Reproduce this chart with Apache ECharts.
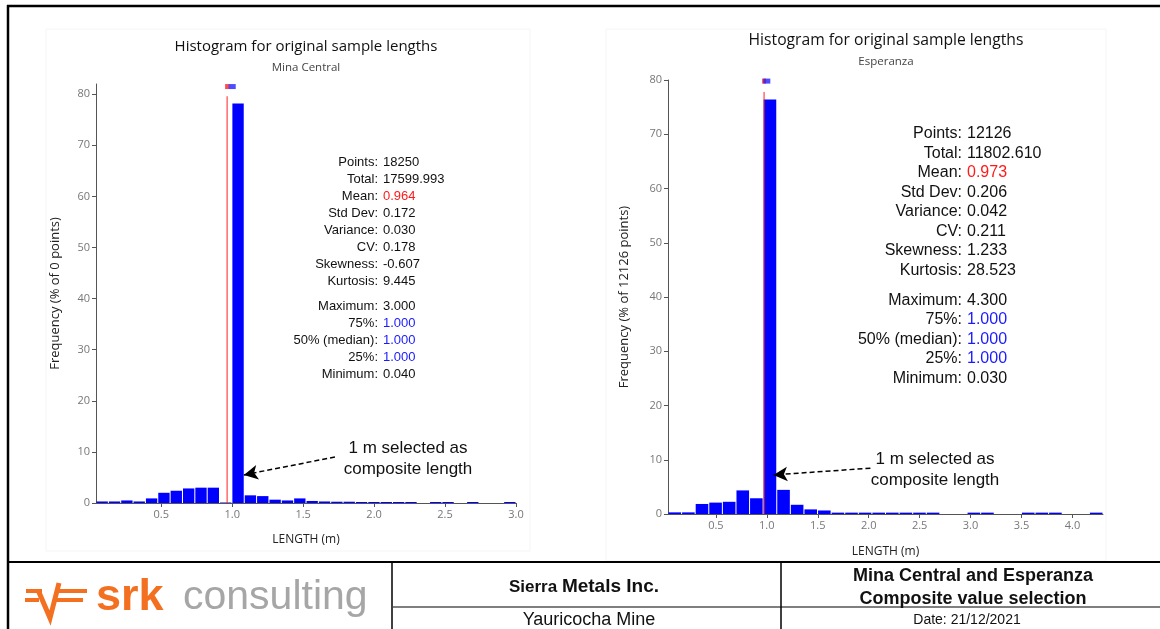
<!DOCTYPE html>
<html style="height: 100%; width: 100%;">
<head>
    <meta charset="utf-8">
    <title>Histogram for original sample lengths</title>
    <script src="https://cdn.jsdelivr.net/npm/echarts@6/dist/echarts.min.js"></script>
    <style>
        body, html {
            margin: 0;
            padding: 0;
            width: 100%;
            height: 100%;
            background: #ffffff;
        }
        #main {
            width: 1160px;
            height: 629px;
        }
    </style>
</head>
<body>
<div id="main"></div>
<script type="text/javascript">
    // ---- data ----
    // Mina Central: 34 bins between the sample min and max (% of points)
    var mcRange = [0.04, 3.0];
    var mcFreq = [0.3, 0.3, 0.5, 0.3, 0.9, 2.0, 2.4, 2.85, 3.0, 3.0,
                  0.1, 78.2, 1.5, 1.35, 0.65, 0.5, 0.9, 0.4, 0.3, 0.25,
                  0.25, 0.2, 0.2, 0.2, 0.2, 0.2, 0, 0.2, 0.2, 0,
                  0.2, 0, 0, 0.2];
    // Esperanza: 32 bins
    var espRange = [0.03, 4.3];
    var espFreq = [0.3, 0.3, 1.85, 2.1, 2.25, 4.35, 2.9, 76.4, 4.45, 1.7,
                   0.85, 0.65, 0.25, 0.25, 0.25, 0.25, 0.25, 0.25, 0.25, 0.25,
                   0, 0, 0.25, 0.25, 0, 0, 0.25, 0.25, 0.25, 0,
                   0, 0.25];

    var mcMean = 0.964, mcMedian = 1.0;
    var espMean = 0.973, espMedian = 1.0;

    var mcXTicks = [0.5, 1.0, 1.5, 2.0, 2.5, 3.0];
    var espXTicks = [0.5, 1.0, 1.5, 2.0, 2.5, 3.0, 3.5, 4.0];
    var yTicks = [0, 10, 20, 30, 40, 50, 60, 70, 80];

    var statLabels = ['Points:', 'Total:', 'Mean:', 'Std Dev:', 'Variance:', 'CV:', 'Skewness:', 'Kurtosis:',
                      'Maximum:', '75%:', '50% (median):', '25%:', 'Minimum:'];
    var mcStats = ['18250', '17599.993', '0.964', '0.172', '0.030', '0.178', '-0.607', '9.445',
                   '3.000', '1.000', '1.000', '1.000', '0.040'];
    var espStats = ['12126', '11802.610', '0.973', '0.206', '0.042', '0.211', '1.233', '28.523',
                    '4.300', '1.000', '1.000', '1.000', '0.030'];

    // build [lo, hi, value] rows for the histogram
    function binRows(range, freq) {
        var w = (range[1] - range[0]) / freq.length;
        return freq.map(function (v, i) {
            return [range[0] + i * w, range[0] + (i + 1) * w, v];
        });
    }

    function histItem(params, api) {
        var p0 = api.coord([api.value(0), api.value(2)]);
        var p1 = api.coord([api.value(1), 0]);
        return {
            type: 'rect',
            shape: { x: p0[0] + 0.5, y: p0[1], width: p1[0] - p0[0] - 1, height: Math.max(p1[1] - p0[1], 0) },
            style: { fill: '#0000ff' }
        };
    }

    var chartFont = '"Open Sans", sans-serif';
    var statFont = '"Liberation Sans", Arial, sans-serif';

    function xAxisFor(idx, range, ticks, gap) {
        return {
            gridIndex: idx, type: 'value', min: range[0], max: range[1],
            name: 'LENGTH (m)', nameLocation: 'middle', nameGap: gap,
            nameTextStyle: { fontFamily: chartFont, fontSize: 12, color: '#222' },
            axisLine: { lineStyle: { color: '#555', width: 1 } },
            axisTick: { show: true, customValues: ticks, length: 4, lineStyle: { color: '#555' } },
            axisLabel: { customValues: ticks, fontFamily: chartFont, fontSize: 11, color: '#777', margin: 6,
                formatter: function (v) { return v.toFixed(1); } },
            splitLine: { show: false }
        };
    }

    function yAxisFor(idx, max, name, gap) {
        return {
            gridIndex: idx, type: 'value', min: 0, max: max,
            name: name, nameLocation: 'middle', nameGap: gap,
            nameTextStyle: { fontFamily: chartFont, fontSize: 13, color: '#222' },
            axisLine: { show: true, lineStyle: { color: '#555', width: 1 } },
            axisTick: { show: true, customValues: yTicks, length: 4, lineStyle: { color: '#555' } },
            axisLabel: { customValues: yTicks, fontFamily: chartFont, fontSize: 11, color: '#777', margin: 6 },
            splitLine: { show: false }
        };
    }

    function statTexts(labelsX, y0, step, gapAt, gapExtra, size, values) {
        var out = [];
        statLabels.forEach(function (lab, i) {
            var y = y0 + i * step + (i >= gapAt ? gapExtra : 0);
            var col = '#111';
            if (i === 2) col = '#ff1a1a';
            if (i >= 9 && i <= 11) col = '#1a1aff';
            out.push({ type: 'text', x: labelsX, y: y, style: { text: lab, font: size + 'px ' + statFont,
                fill: '#111', align: 'right', verticalAlign: 'middle' } });
            out.push({ type: 'text', x: labelsX + 5, y: y, style: { text: values[i], font: size + 'px ' + statFont,
                fill: col, align: 'left', verticalAlign: 'middle' } });
        });
        return out;
    }

    function centerText(x, y, text, font, fill) {
        return { type: 'text', x: x, y: y, style: { text: text, font: font, fill: fill || '#111',
            align: 'center', verticalAlign: 'middle' } };
    }

    var orange = '#f37021';
    var graphics = [
        // faint panels behind each histogram
        { type: 'rect', shape: { x: 46, y: 29, width: 484, height: 522 }, style: { fill: 'none', stroke: '#f5f5f5' } },
        { type: 'rect', shape: { x: 606, y: 29, width: 500, height: 532 }, style: { fill: 'none', stroke: '#f5f5f5' } },
        // outer frame + title block
        { type: 'line', shape: { x1: 7, y1: 6, x2: 1160, y2: 6 }, style: { stroke: '#000', lineWidth: 2.5 } },
        { type: 'line', shape: { x1: 8, y1: 5, x2: 8, y2: 629 }, style: { stroke: '#000', lineWidth: 2.5 } },
        { type: 'line', shape: { x1: 7, y1: 562, x2: 1160, y2: 562 }, style: { stroke: '#000', lineWidth: 2 } },
        { type: 'line', shape: { x1: 392, y1: 562, x2: 392, y2: 629 }, style: { stroke: '#000', lineWidth: 1.5 } },
        { type: 'line', shape: { x1: 781, y1: 562, x2: 781, y2: 629 }, style: { stroke: '#000', lineWidth: 1.5 } },
        { type: 'line', shape: { x1: 393, y1: 607, x2: 1160, y2: 607 }, style: { stroke: '#000', lineWidth: 1.2 } },
        // srk logo
        { type: 'rect', shape: { x: 26, y: 589, width: 16, height: 4 }, style: { fill: orange } },
        { type: 'rect', shape: { x: 25, y: 598, width: 14, height: 4 }, style: { fill: orange } },
        { type: 'rect', shape: { x: 58, y: 589, width: 29, height: 4 }, style: { fill: orange } },
        { type: 'rect', shape: { x: 56, y: 598, width: 27, height: 4 }, style: { fill: orange } },
        { type: 'polyline', shape: { points: [[38, 590], [50, 618], [59, 583]] },
            style: { stroke: orange, lineWidth: 5, fill: 'none', lineJoin: 'miter' } },
        { type: 'text', x: 96, y: 598, style: { text: 'srk', font: 'bold 45px ' + statFont, fill: orange,
            align: 'left', verticalAlign: 'middle' } },
        { type: 'text', x: 183, y: 598, style: { text: 'consulting', font: '41px ' + statFont, fill: '#a6a6a6',
            align: 'left', verticalAlign: 'middle' } },
        // title block texts
        { type: 'text', x: 584, y: 587, style: {
            text: '{a|Sierra }{b|Metals Inc.}', align: 'center', verticalAlign: 'middle',
            rich: { a: { font: 'bold 17px ' + statFont, fill: '#111' }, b: { font: 'bold 19px ' + statFont, fill: '#111' } } } },
        centerText(589, 620, 'Yauricocha Mine', '18px ' + statFont),
        centerText(973, 576, 'Mina Central and Esperanza', 'bold 18px ' + statFont),
        centerText(973, 599, 'Composite value selection', 'bold 18px ' + statFont),
        centerText(967, 620, 'Date: 21/12/2021', '14px ' + statFont),
        // chart titles
        centerText(306, 47, 'Histogram for original sample lengths', '15px ' + chartFont, '#111'),
        centerText(306, 68, 'Mina Central', '11.5px ' + chartFont, '#444'),
        centerText(886, 41, 'Histogram for original sample lengths', '15.7px ' + chartFont, '#111'),
        centerText(886, 62, 'Esperanza', '11.5px ' + chartFont, '#444'),
        // annotations
        centerText(408, 448, '1 m selected as', '17px ' + statFont),
        centerText(408, 469, 'composite length', '17px ' + statFont),
        centerText(935, 459, '1 m selected as', '17px ' + statFont),
        centerText(935, 480, 'composite length', '17px ' + statFont)
    ];
    graphics = graphics.concat(statTexts(378, 162, 17, 8, 8, 13, mcStats));
    graphics = graphics.concat(statTexts(962, 134, 19.5, 8, 10.5, 16, espStats));

    function meanSeries(idx, mean, top, arrowFrom, arrowTo) {
        return {
            type: 'line', xAxisIndex: idx, yAxisIndex: idx,
            data: [[mean, 0], [mean, top]],
            symbol: 'none', lineStyle: { color: '#ff2020', width: 1 }, z: 5, silent: true,
            markLine: {
                silent: true, symbol: ['none', 'arrow'], symbolSize: [11, 14],
                label: { show: false },
                lineStyle: { color: '#000', type: [5, 3], width: 1.5 },
                data: [[{ coord: arrowFrom }, { coord: arrowTo }]]
            }
        };
    }

    function markerSeries(idx, mean, median, y) {
        return [
            { type: 'scatter', xAxisIndex: idx, yAxisIndex: idx, data: [[mean, y]], symbol: 'rect',
                symbolSize: [4, 5], itemStyle: { color: '#ff2020' }, silent: true, z: 6 },
            { type: 'scatter', xAxisIndex: idx, yAxisIndex: idx, data: [[median, y]], symbol: 'rect',
                symbolSize: [7, 5], itemStyle: { color: '#2020ff' }, silent: true, z: 6 }
        ];
    }

    var chart = echarts.init(document.getElementById('main'), null, { renderer: 'canvas' });

    var option = {
        backgroundColor: '#ffffff',
        animation: false,
        grid: [
            { left: 96, right: 644, top: 84, bottom: 126 },
            { left: 668, right: 57, top: 80, bottom: 115 }
        ],
        xAxis: [
            xAxisFor(0, mcRange, mcXTicks, 31),
            xAxisFor(1, espRange, espXTicks, 32)
        ],
        yAxis: [
            yAxisFor(0, 82, 'Frequency (% of 0 points)', 34),
            yAxisFor(1, 80, 'Frequency (% of 12126 points)', 37)
        ],
        series: [
            { type: 'custom', xAxisIndex: 0, yAxisIndex: 0, renderItem: histItem, clip: true,
                encode: { x: [0, 1], y: 2 }, data: binRows(mcRange, mcFreq) },
            { type: 'custom', xAxisIndex: 1, yAxisIndex: 1, renderItem: histItem, clip: true,
                encode: { x: [0, 1], y: 2 }, data: binRows(espRange, espFreq) },
            meanSeries(0, mcMean, 79.6, [1.724, 9.0], [1.082, 5.5]),
            meanSeries(1, espMean, 77.8, [2.017, 8.45], [1.065, 7.2])
        ].concat(markerSeries(0, mcMean, mcMedian, 81.5), markerSeries(1, espMean, espMedian, 79.8)),
        graphic: graphics
    };

    chart.setOption(option);
</script>
</body>
</html>
